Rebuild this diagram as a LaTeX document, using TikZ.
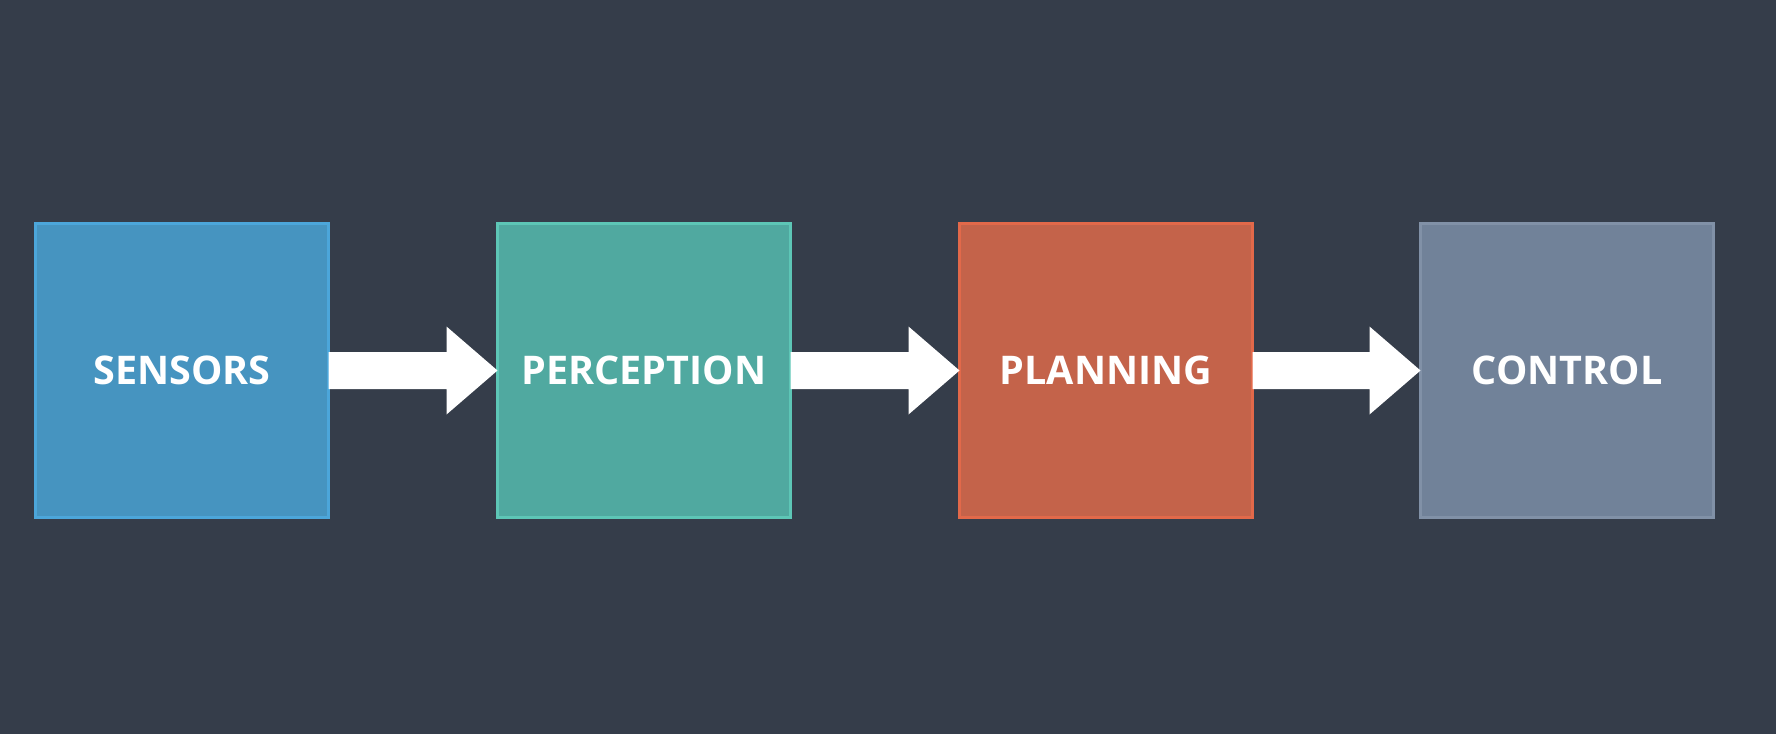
\documentclass[tikz,border=0pt]{standalone}
\usepackage{fontspec}
\setmainfont{Open Sans}
\usetikzlibrary{calc}
\definecolor{bg}{HTML}{353D4A}
\definecolor{sensfill}{HTML}{4694C0}
\definecolor{sensline}{HTML}{4CA6DA}
\definecolor{percfill}{HTML}{50A9A0}
\definecolor{percline}{HTML}{5DC6B6}
\definecolor{planfill}{HTML}{C4634A}
\definecolor{planline}{HTML}{E2694A}
\definecolor{ctrlfill}{HTML}{718299}
\definecolor{ctrlline}{HTML}{8191A7}
\newcommand\stagearrow[2]{%
  \fill[white] ($(#1.east)+(0,-18.5)$) -- ($(#2.west)+(-51,-18.5)$) -- ($(#2.west)+(-51,-44)$)
    -- (#2.west) -- ($(#2.west)+(-51,44)$) -- ($(#2.west)+(-51,18.5)$) -- ($(#1.east)+(0,18.5)$) -- cycle;}
\begin{document}
\begin{tikzpicture}[x=1pt,y=-1pt,
  stage/.style={draw, line width=3pt, minimum width=293pt, minimum height=294pt,
    inner sep=0pt, outer sep=0pt, text=white, font=\fontsize{39.5}{39.5}\selectfont\bfseries}]
\fill[bg] (0,0) rectangle (1776,734);
\useasboundingbox (0,0) rectangle (1776,734);
\node[stage, fill=sensfill, draw=sensline] (s) at (182,370.5) {SENSORS};
\node[stage, fill=percfill, draw=percline] (p) at (644,370.5) {PERCEPTION};
\node[stage, fill=planfill, draw=planline] (l) at (1106,370.5) {PLANNING};
\node[stage, fill=ctrlfill, draw=ctrlline] (c) at (1567,370.5) {CONTROL};
\stagearrow{s}{p}
\stagearrow{p}{l}
\stagearrow{l}{c}
\end{tikzpicture}
\end{document}
